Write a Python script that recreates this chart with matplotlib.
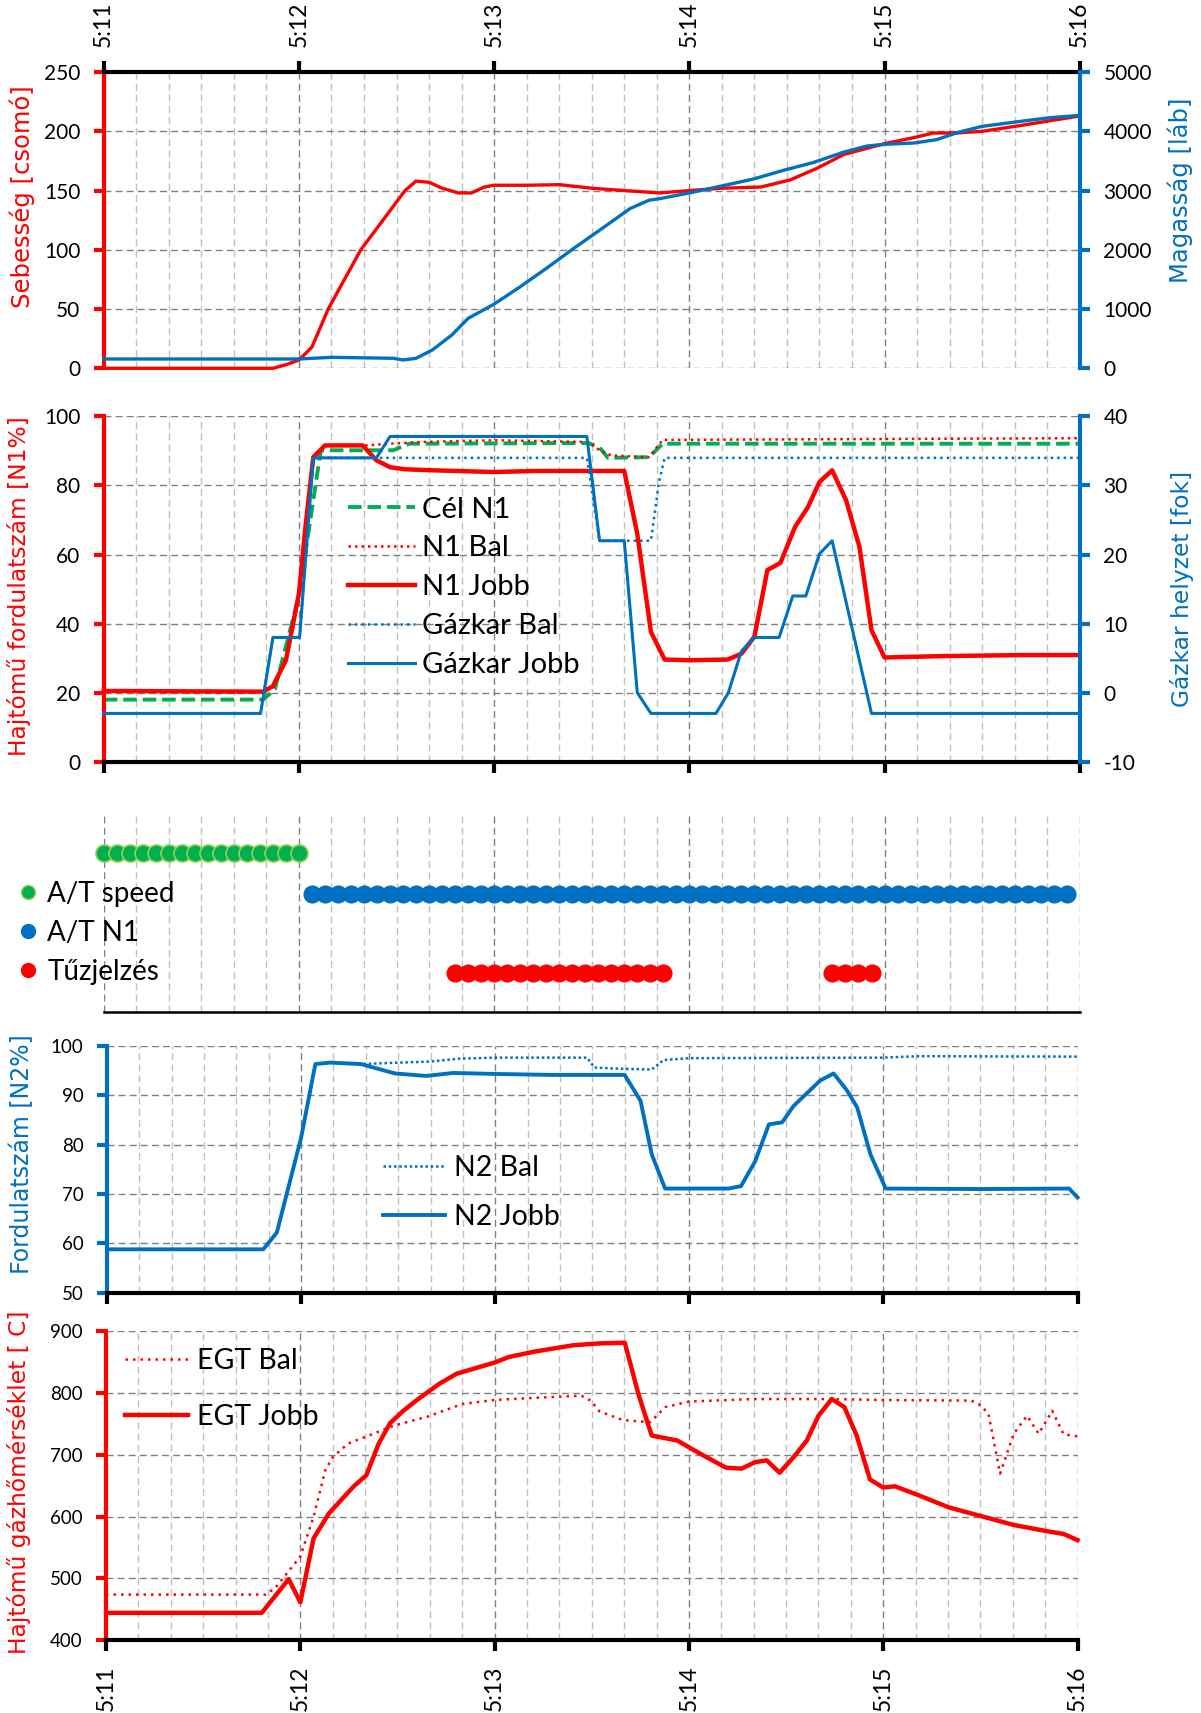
import matplotlib.pyplot as plt
from matplotlib.lines import Line2D

plt.rcParams['font.family'] = ['Lato', 'DejaVu Sans']
plt.rcParams['axes.unicode_minus'] = False

RED = '#ff0000'
BLUE = '#0070c0'
GREEN = '#00b050'
GRID_MAJOR = '#808080'
GRID_MINOR = '#c0c0c0'

# idő: másodperc 5:11:00 után
time_ticks = [0, 60, 120, 180, 240, 300]
time_labels = ['5:11', '5:12', '5:13', '5:14', '5:15', '5:16']

# 1. sebesség (csomó) és magasság (láb)
spd_t = [0, 52, 56, 60, 64, 69, 79, 85, 92.6, 96, 100, 104, 109, 113, 117, 120, 130, 140, 150,
         160, 171, 180, 190, 202, 211, 219, 227.6, 240, 249, 255, 262, 270, 282, 291, 300]
spd_v = [0, 0, 3, 7, 18, 50, 100, 122, 150, 158, 157, 152, 148, 148, 153, 154.5, 154.5, 155, 152,
         150, 148, 150, 152, 153, 159, 168.5, 180.6, 189.6, 194.7, 198.6, 198.6, 200, 205, 209, 213]
alt_t = [0, 60, 70, 89, 92, 96, 101, 107, 112, 120, 128, 136, 144.4, 152.4, 161.8, 167.6, 171,
         180, 190, 199.4, 209, 218, 227.6, 234.7, 240, 249, 256, 263, 270, 281.8, 291, 300]
alt_v = [157, 157, 185, 169, 140, 169, 309, 562, 843, 1084, 1376, 1685, 2022, 2330, 2697, 2837,
         2865, 2960, 3079, 3191, 3343, 3472, 3652, 3753, 3781, 3803, 3860, 3989, 4084, 4169, 4231, 4270]

# 2. N1 és gázkar
n1j_t = [0, 49, 52, 56, 60, 62, 64.4, 68, 79.6, 83.8, 88, 92.6, 101, 120, 132.5, 160, 164, 168.2,
         172.4, 180, 191.8, 196, 200, 204, 208, 212.5, 216.5, 220, 223.9, 228.2, 232.3, 236, 240,
         258, 282, 300]
n1j_v = [20.5, 20.3, 21.9, 29.4, 48.7, 68, 88.2, 91.6, 91.6, 87.3, 85.3, 84.7, 84.4, 83.9, 84.2,
         84.2, 66, 37.6, 29.6, 29.4, 29.6, 31.3, 36.2, 55.5, 57.6, 68, 73.8, 81, 84.4, 75.7, 62.2,
         38.1, 30.2, 30.6, 30.9, 30.9]
n1b_t = [0, 49, 52, 56, 60, 62, 64.4, 68, 80.8, 88, 97.3, 120, 149, 152.4, 156, 167.6, 171.8, 300]
n1b_v = [20.5, 20.3, 21.9, 29.4, 48.7, 68, 88.2, 91.6, 91.6, 92.1, 92.6, 93.1, 92.6, 90.2, 88.7,
         88.2, 93.2, 93.7]
cel_t = [0, 49, 52.6, 60, 66.7, 89, 93.8, 149, 152.4, 155, 167.6, 171.8, 300]
cel_v = [18, 18, 21, 48, 90.2, 90.2, 92.1, 92.3, 91, 88, 88.2, 92.1, 92.1]
gkj_t = [0, 48.2, 52, 60.2, 64.4, 83.8, 88, 148.5, 152.4, 160, 164, 168.2, 188.2, 192, 196, 200,
         207.6, 211.8, 215.8, 220, 223.9, 236, 300]
gkj_v = [-3, -3, 8, 8, 34, 34, 37.1, 37.1, 22, 22, 0, -3, -3, 0, 6, 8, 8, 14, 14, 20.1, 22, -3, -3]
gkb_t = [0, 48.2, 52, 60.2, 64.4, 148.5, 152.4, 168.2, 170.6, 172.4, 300]
gkb_v = [-3, -3, 8, 8, 34, 34, 22, 22, 30.3, 34, 34]

# 3. állapotjelzések (4 másodperces minták)
at_speed_t = [0, 4, 8, 12, 16, 20, 24, 28, 32, 36, 40, 44, 48, 52, 56, 60]
at_n1_t = [64, 68, 72, 76, 80, 84, 88, 92, 96, 100, 104, 108, 112, 116, 120, 124, 128, 132, 136,
           140, 144, 148, 152, 156, 160, 164, 168, 172, 176, 180, 184, 188, 192, 196, 200, 204,
           208, 212, 216, 220, 224, 228, 232, 236, 240, 244, 248, 252, 256, 260, 264, 268, 272,
           276, 280, 284, 288, 292, 296]
fire_t = [108, 112, 116, 120, 124, 128, 132, 136, 140, 144, 148, 152, 156, 160, 164, 168, 172,
          224, 228, 232, 236]

# 4. N2
n2j_t = [0, 48.3, 52.5, 60, 64.4, 69, 78.5, 89, 98.7, 107, 120, 137.7, 160, 164.9, 168.4, 172.5,
         192.1, 196, 200.4, 204.6, 208.7, 212.2, 220.5, 224.6, 228.8, 231.9, 236, 240.7, 270,
         297.4, 300]
n2j_v = [58.8, 58.8, 62.2, 81.4, 96.3, 96.6, 96.3, 94.4, 93.9, 94.5, 94.3, 94.1, 94.1, 88.9, 78,
         71.1, 71.1, 71.6, 76.7, 84.1, 84.5, 87.8, 93, 94.4, 90.9, 87.5, 78, 71.1, 71, 71.1, 69.3]
n2b_t = [0, 48.3, 52.5, 60, 64.4, 69, 78.5, 90.4, 99.8, 109, 120, 148.4, 150.7, 156.6, 168.4, 172,
         180, 239.7, 251.3, 300]
n2b_v = [58.8, 58.8, 62.2, 81.4, 96.3, 96.6, 96.3, 96.6, 96.8, 97.4, 97.6, 97.6, 95.6, 95.4, 95.2,
         97.1, 97.5, 97.6, 97.9, 97.8]

# 5. EGT
egtj_t = [0, 48.1, 56.4, 60, 64.1, 68.8, 73.5, 76.5, 80.4, 84.2, 87.7, 91.8, 96, 103, 108.3, 120,
          124.4, 132.6, 144.4, 152.4, 160.2, 164.4, 168.5, 176.4, 180, 184.4, 191.5, 196.3, 200.4,
          204, 208, 212.3, 216.4, 220, 224.1, 228, 231.8, 235.9, 240, 243.6, 250.7, 260.2, 270.8,
          280.3, 291, 295.7, 300]
egtj_v = [444.5, 444.5, 499, 461.6, 565, 605, 632, 649, 667, 718, 751, 771, 788.5, 815, 831, 849,
          858, 867, 877, 880, 881, 798, 731, 723, 712, 699, 679, 677.6, 688, 691, 671, 696, 723,
          763, 790, 777, 731, 660, 647, 649, 635, 615, 600, 586.5, 576, 572, 562]
egtb_t = [0, 49.3, 52.3, 60, 64.1, 67.7, 70, 74.7, 80.6, 88.9, 99.5, 110, 120, 132.6, 146.8, 149.8,
          152.4, 159.6, 168, 172.7, 180, 199.9, 223.6, 240, 267.2, 270.2, 272.5, 276.1, 280.3,
          284.4, 288, 292.2, 295.7, 300]
egtb_v = [474, 474, 485, 535.6, 600, 675, 696, 718, 730, 747, 762, 782, 788.5, 792, 795.5, 787,
          770, 756, 752.6, 777, 786, 790, 790, 788.5, 787.5, 779.5, 766, 669.5, 734, 763, 734, 771,
          733, 729.6]

sub_ticks = [t for t in range(10, 300, 10) if t % 60]


def style_time(ax):
    ax.set_xlim(0, 300)
    ax.set_xticks(time_ticks)
    ax.set_xticks(sub_ticks, minor=True)
    ax.grid(which='major', axis='x', color=GRID_MAJOR, ls=(0, (5, 3)), lw=1)
    ax.grid(which='minor', axis='x', color=GRID_MINOR, ls=(0, (5, 3)), lw=1)
    ax.tick_params(axis='x', which='minor', length=0)
    ax.tick_params(axis='x', which='major', length=8, width=3, color='black', labelsize=16.5, pad=10)
    ax.set_axisbelow(True)


def style_y(ax, color, size=15):
    ax.grid(axis='y', color=GRID_MAJOR, ls=(0, (5, 3)), lw=1)
    ax.tick_params(axis='y', length=7, width=3, color=color, labelcolor='black', labelsize=size, pad=10)


def ylab(ax, text, color, x, y=0.5, size=16.8):
    ax.text(x, y, text, transform=ax.transAxes, rotation=90, ha='center', va='center',
            color=color, fontsize=size, family='DejaVu Sans')


def spines(ax, show):
    for k, sp in ax.spines.items():
        if k in show:
            sp.set_color(show[k])
            sp.set_linewidth(3)
        else:
            sp.set_visible(False)


fig = plt.figure(figsize=(12.01, 17.13), dpi=100)
ax1 = fig.add_axes([0.0864, 0.785, 0.8126, 0.1729])
ax2 = fig.add_axes([0.0864, 0.5553, 0.8126, 0.2016])
ax3 = fig.add_axes([0.0864, 0.4092, 0.8126, 0.1162])
ax4 = fig.add_axes([0.0891, 0.2453, 0.8081, 0.1442])
ax5 = fig.add_axes([0.0883, 0.0424, 0.8089, 0.1806])

# --- 1. panel
style_time(ax1)
ax1.xaxis.tick_top()
ax1.set_xticklabels(time_labels, rotation=90)
ax1.set_ylim(0, 250)
ax1.set_yticks([0, 50, 100, 150, 200, 250])
style_y(ax1, RED)
ax1.plot(spd_t, spd_v, color=RED, lw=2.4, clip_on=False)
spines(ax1, {'top': 'black', 'left': RED})
ylab(ax1, 'Sebesség [csomó]', RED, -0.084, 0.58, 17.5)
ax1b = ax1.twinx()
ax1b.set_ylim(0, 5000)
ax1b.set_yticks([0, 1000, 2000, 3000, 4000, 5000])
ax1b.tick_params(axis='y', length=7, width=3, color=BLUE, labelcolor='black', labelsize=15, pad=10)
ax1b.plot(alt_t, alt_v, color=BLUE, lw=2.4, clip_on=False)
spines(ax1b, {'right': BLUE})
ylab(ax1b, 'Magasság [láb]', BLUE, 1.103, 0.60, 17.5)

# --- 2. panel
style_time(ax2)
ax2.set_xticklabels([])
ax2.set_ylim(0, 100)
ax2.set_yticks([0, 20, 40, 60, 80, 100])
style_y(ax2, RED)
l1, = ax2.plot(cel_t, cel_v, color=GREEN, lw=2.8, ls=(0, (3.5, 1.5)), clip_on=False)
l2, = ax2.plot(n1b_t, n1b_v, color=RED, lw=1.8, ls=(0, (1, 1.6)), clip_on=False)
l3, = ax2.plot(n1j_t, n1j_v, color=RED, lw=3.2, clip_on=False)
spines(ax2, {'bottom': 'black', 'left': RED})
ylab(ax2, 'Hajtómű fordulatszám [N1%]', RED, -0.087, 0.509)
ax2b = ax2.twinx()
ax2b.set_ylim(-10, 40)
ax2b.set_yticks([-10, 0, 10, 20, 30, 40])
ax2b.tick_params(axis='y', length=7, width=3, color=BLUE, labelcolor='black', labelsize=15, pad=10)
l4, = ax2b.plot(gkb_t, gkb_v, color=BLUE, lw=1.8, ls=(0, (1, 1.6)), clip_on=False)
l5, = ax2b.plot(gkj_t, gkj_v, color=BLUE, lw=2.2, clip_on=False)
spines(ax2b, {'right': BLUE})
ylab(ax2b, 'Gázkar helyzet [fok]', BLUE, 1.105, 0.50)
ax2b.legend([l1, l2, l3, l4, l5], ['Cél N1', 'N1 Bal', 'N1 Jobb', 'Gázkar Bal', 'Gázkar Jobb'],
            loc='upper left', bbox_to_anchor=(0.25, 0.768), frameon=False, fontsize=21,
            handlelength=2.3, handletextpad=0.25, labelspacing=0.44, borderpad=0, borderaxespad=0)

# --- 3. panel
style_time(ax3)
ax3.set_xticklabels([])
ax3.tick_params(axis='x', which='major', length=0)
ax3.set_ylim(0, 1)
ax3.set_yticks([])
spines(ax3, {'bottom': 'black'})
ax3.spines['bottom'].set_linewidth(1.8)
ax3.scatter(at_speed_t, [0.80] * len(at_speed_t), s=150, color=GREEN, edgecolor='#92d050',
            lw=1.2, zorder=3, clip_on=False)
ax3.scatter(at_n1_t, [0.593] * len(at_n1_t), s=150, color=BLUE, edgecolor=BLUE, lw=0.8,
            zorder=3, clip_on=False)
ax3.scatter(fire_t, [0.196] * len(fire_t), s=150, color=RED, edgecolor=RED, lw=0.8,
            zorder=3, clip_on=False)
h_dots = [Line2D([], [], ls='', marker='o', markersize=10, mfc=GREEN, mec='#92d050'),
          Line2D([], [], ls='', marker='o', markersize=10, mfc=BLUE, mec=BLUE),
          Line2D([], [], ls='', marker='o', markersize=10, mfc=RED, mec=RED)]
ax3.legend(h_dots, ['A/T speed', 'A/T N1', 'Tűzjelzés'], loc='upper left',
           bbox_to_anchor=(-0.089, 0.66), frameon=False, fontsize=20, handlelength=0.8,
           handletextpad=0.3, labelspacing=0.47, borderpad=0, borderaxespad=0)

# --- 4. panel
style_time(ax4)
ax4.set_xticklabels([])
ax4.set_ylim(50, 100)
ax4.set_yticks([50, 60, 70, 80, 90, 100])
style_y(ax4, BLUE, 13.5)
m1, = ax4.plot(n2b_t, n2b_v, color=BLUE, lw=1.8, ls=(0, (1, 1.1)), clip_on=False)
m2, = ax4.plot(n2j_t, n2j_v, color=BLUE, lw=2.8, clip_on=False)
spines(ax4, {'bottom': 'black', 'left': BLUE})
ylab(ax4, 'Fordulatszám [N2%]', BLUE, -0.088, 0.56, 17)
ax4.legend([m1, m2], ['N2 Bal', 'N2 Jobb'], loc='upper left', bbox_to_anchor=(0.284, 0.557),
           frameon=False, fontsize=20.5, handlelength=2.2, handletextpad=0.3, labelspacing=0.8,
           borderpad=0, borderaxespad=0)

# --- 5. panel
style_time(ax5)
ax5.set_xticklabels(time_labels, rotation=90)
ax5.set_ylim(400, 900)
ax5.set_yticks([400, 500, 600, 700, 800, 900])
style_y(ax5, RED, 13.5)
e1, = ax5.plot(egtb_t, egtb_v, color=RED, lw=1.8, ls=(0, (1, 2)), clip_on=False)
e2, = ax5.plot(egtj_t, egtj_v, color=RED, lw=3.2, clip_on=False)
spines(ax5, {'bottom': 'black', 'left': RED})
ylab(ax5, 'Hajtómű gázhőmérséklet [ C]', RED, -0.09, 0.512, 16.8)
ax5.legend([e1, e2], ['EGT Bal', 'EGT Jobb'], loc='upper left', bbox_to_anchor=(0.02, 0.944),
           frameon=False, fontsize=20.5, handlelength=2.2, handletextpad=0.3, labelspacing=1.05,
           borderpad=0, borderaxespad=0)

fig.savefig('out.png', dpi=100)
